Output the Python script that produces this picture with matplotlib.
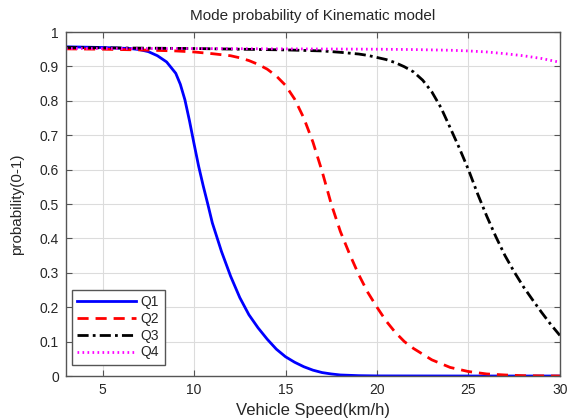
"""Mode probability of the kinematic model versus vehicle speed."""

import matplotlib

matplotlib.use("Agg")

import matplotlib.pyplot as plt  # noqa: E402


SPEED_Q1 = [3, 4, 5, 6, 6.5, 7, 7.5, 8, 8.5, 9, 9.25, 9.5, 9.75, 10,
            10.25, 10.5, 10.75, 11, 11.5, 12, 12.5, 13, 13.5, 14, 14.5,
            15, 15.5, 16, 16.5, 17, 17.5, 18, 19, 20, 25, 30]
PROB_Q1 = [0.957, 0.956, 0.955, 0.953, 0.952, 0.949, 0.943, 0.931, 0.913,
           0.88, 0.848, 0.803, 0.742, 0.675, 0.61, 0.553, 0.5, 0.445,
           0.362, 0.29, 0.228, 0.178, 0.14, 0.107, 0.078, 0.056, 0.04,
           0.027, 0.017, 0.01, 0.006, 0.003, 0.001, 0.0003, 0.0, 0.0]

SPEED_Q2 = [3, 5, 7, 9, 10, 11, 12, 12.5, 13, 13.5, 14, 14.5, 15, 15.5,
            16, 16.5, 17, 17.5, 18, 18.5, 19, 19.5, 20, 20.5, 21, 21.5,
            22, 23, 24, 25, 26, 27, 28, 30]
PROB_Q2 = [0.951, 0.95, 0.948, 0.945, 0.942, 0.937, 0.931, 0.925, 0.917,
           0.906, 0.892, 0.872, 0.845, 0.805, 0.75, 0.68, 0.595, 0.5,
           0.42, 0.355, 0.295, 0.243, 0.2, 0.16, 0.127, 0.1, 0.08, 0.047,
           0.025, 0.013, 0.006, 0.003, 0.001, 0.0]

SPEED_Q3 = [3, 5, 10, 15, 17, 18, 19, 19.5, 20, 20.5, 21, 21.5, 22, 22.5,
            23, 23.5, 24, 24.5, 25, 25.5, 26, 26.5, 27, 27.5, 28, 28.5, 29,
            29.5, 30]
PROB_Q3 = [0.955, 0.954, 0.952, 0.948, 0.945, 0.941, 0.936, 0.932, 0.926,
           0.92, 0.911, 0.899, 0.884, 0.86, 0.826, 0.78, 0.722, 0.663,
           0.6, 0.53, 0.465, 0.405, 0.35, 0.303, 0.26, 0.222, 0.185, 0.15,
           0.118]

SPEED_Q4 = [3, 10, 15, 20, 22, 24, 25, 26, 27, 28, 29, 30]
PROB_Q4 = [0.952, 0.952, 0.951, 0.95, 0.949, 0.947, 0.945, 0.942, 0.937,
           0.931, 0.923, 0.912]

X_TICKS = [5, 10, 15, 20, 25, 30]
Y_TICKS = [0, 0.1, 0.2, 0.3, 0.4, 0.5, 0.6, 0.7, 0.8, 0.9, 1]
Y_TICK_LABELS = ["0", "0.1", "0.2", "0.3", "0.4", "0.5", "0.6", "0.7",
                 "0.8", "0.9", "1"]

TEXT_COLOR = "#262626"

plt.rcParams["font.family"] = ["Liberation Sans", "DejaVu Sans"]

fig = plt.figure(figsize=(5.76, 4.19), dpi=100)
ax = fig.add_axes((0.1146, 0.1026, 0.8574, 0.821))

ax.plot(SPEED_Q1, PROB_Q1, color="#0000ff", linewidth=2, label="Q1")
ax.plot(SPEED_Q2, PROB_Q2, color="#ff0000", linewidth=2,
        linestyle=(0, (4, 2.5)), label="Q2")
ax.plot(SPEED_Q3, PROB_Q3, color="#000000", linewidth=2,
        linestyle=(0, (4, 1.5, 1, 1.5)), label="Q3")
ax.plot(SPEED_Q4, PROB_Q4, color="#ff00ff", linewidth=2,
        linestyle=(0, (0.6, 1.2)), label="Q4")

ax.set_xlim(3, 30)
ax.set_ylim(0, 1)
ax.set_xticks(X_TICKS)
ax.set_yticks(Y_TICKS)
ax.set_yticklabels(Y_TICK_LABELS)
ax.grid(True, color="#dcdcdc", linewidth=0.8)
ax.set_axisbelow(True)
ax.tick_params(direction="in", top=True, right=True, length=4,
               width=0.8, color="#555555", labelsize=10,
               labelcolor=TEXT_COLOR, pad=5)
for spine in ax.spines.values():
    spine.set_color("#555555")
    spine.set_linewidth(1.0)

ax.set_title("Mode probability of Kinematic model", fontsize=11,
             color=TEXT_COLOR, pad=9)
ax.set_xlabel("Vehicle Speed(km/h)", fontsize=12, color=TEXT_COLOR,
              labelpad=4)
ax.set_ylabel("probability(0-1)", fontsize=11, color=TEXT_COLOR,
              labelpad=11)

legend = ax.legend(loc="lower left", bbox_to_anchor=(0.012, 0.032),
                   borderaxespad=0, fontsize=10, handlelength=4.2,
                   handletextpad=0.35, labelspacing=0.2, borderpad=0.4,
                   fancybox=False, framealpha=1, edgecolor="#555555")
legend.get_frame().set_linewidth(1.0)
for text in legend.get_texts():
    text.set_color(TEXT_COLOR)

fig.savefig("out.png", dpi=100, facecolor="white")
plt.close(fig)
